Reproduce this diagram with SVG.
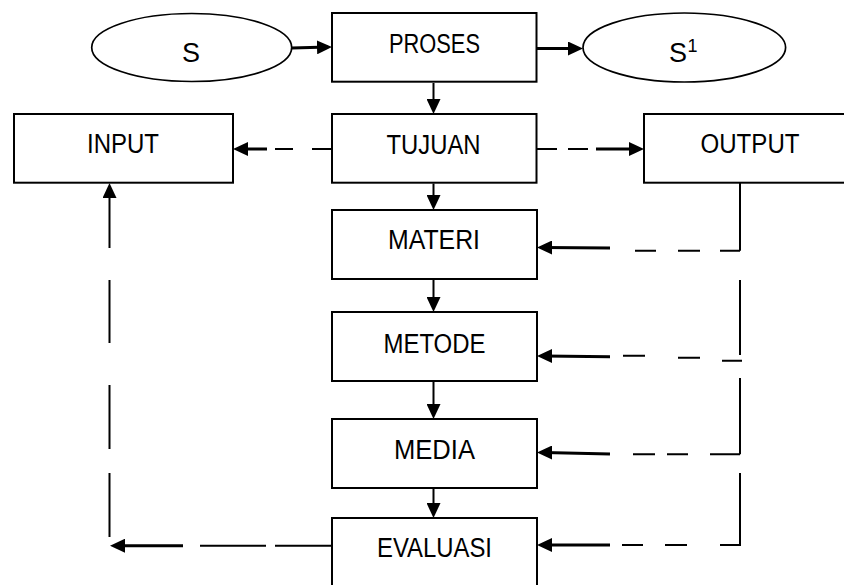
<svg xmlns="http://www.w3.org/2000/svg" width="844" height="585" viewBox="0 0 844 585">
<style>
.box{fill:#fff;stroke:#000;stroke-width:2}
.ell{fill:#fff;stroke:#000;stroke-width:1.7}
.lbl{font-family:"Liberation Sans",Arial,sans-serif;font-size:27px;fill:#000;text-anchor:middle}
.ln{fill:none;stroke:#000;stroke-width:2}
.thick{fill:none;stroke:#000;stroke-width:3}
.arr{fill:none;stroke:#000;stroke-width:2;marker-end:url(#ah)}
.arrT{fill:none;stroke:#000;stroke-width:3;marker-end:url(#ah)}
</style>
<defs>
<marker id="ah" markerUnits="userSpaceOnUse" markerWidth="15" markerHeight="14" refX="11" refY="7" orient="auto">
<path d="M0,0 L15,7 L0,14 Z" fill="#000"/>
</marker>
</defs>
<rect width="844" height="585" fill="#fff"/>
<g id="connectors">
<path class="arrT" d="M292,48 L328,47"/>
<path class="arrT" d="M537,48.5 L579,48.5"/>
<path class="arr" d="M433.5,83 L433.5,110"/>
<path class="arr" d="M433.5,183.5 L433.5,206"/>
<path class="arr" d="M433.5,280 L433.5,308"/>
<path class="arr" d="M433.5,382 L433.5,415"/>
<path class="arr" d="M433.5,489 L433.5,514"/>
<path class="thick" d="M267,149 L240,149"/>
<path class="arr" d="M241,149 L237,149"/>
<path class="ln" d="M275,149 H293 M312,149 H332"/>
<path class="ln" d="M537,149 H557 M568,149 H588"/>
<path class="thick" d="M596,149 L636,149"/>
<path class="arr" d="M635,149 L640,149"/>
<path class="ln" d="M740,183 V250.7 M720,250.7 H740 M678,250.7 H700 M635,250.7 H656"/>
<path class="thick" d="M610,248 L544,247.5"/>
<path class="arr" d="M545,247.5 L541,247.5"/>
<path class="ln" d="M740,280 V355 M722,360.7 H742 M678,357.7 H700 M623,355.7 H645"/>
<path class="thick" d="M610,356.7 L544,356"/>
<path class="arr" d="M545,356 L541,356"/>
<path class="ln" d="M740,378 V454.3 M710,454.3 H740 M667,454.3 H688 M633,454.3 H655"/>
<path class="thick" d="M610,454 L544,452.5"/>
<path class="arr" d="M545,452.5 L541,452.5"/>
<path class="ln" d="M740,473 V545 H720 M665,545 H687 M622,545 H643"/>
<path class="thick" d="M610,545 L544,545"/>
<path class="arr" d="M545,545 L541,545"/>
<path class="ln" d="M332,545.7 H275 M266,545.7 H200"/>
<path class="thick" d="M183,545.7 L117,545.7"/>
<path class="arr" d="M118,545.7 L114,545.7"/>
<path class="ln" d="M109.5,537 V473 M109.5,449 V385 M109.5,343 V280"/>
<path class="arr" d="M109.5,248 L109.5,187"/>
</g>
<g id="node-s">
<ellipse class="ell" cx="191.7" cy="47.5" rx="100" ry="34"/>
<text class="lbl" x="191" y="61.7">S</text>
</g>
<g id="node-proses">
<rect class="box" x="332" y="13" width="204.5" height="68.7"/>
<text class="lbl" x="434.5" y="52.8" textLength="91" lengthAdjust="spacingAndGlyphs">PROSES</text>
</g>
<g id="node-s1">
<ellipse class="ell" cx="684.3" cy="47.5" rx="101.3" ry="34.5"/>
<text class="lbl" style="text-anchor:start" x="669" y="61.7">S<tspan x="687.5" y="51.7" font-size="18">1</tspan></text>
</g>
<g id="node-input">
<rect class="box" x="14" y="114" width="219" height="68.7"/>
<text class="lbl" x="123" y="153.3" textLength="72" lengthAdjust="spacingAndGlyphs">INPUT</text>
</g>
<g id="node-tujuan">
<rect class="box" x="332" y="114" width="204.5" height="68.7"/>
<text class="lbl" x="433.5" y="154" textLength="94" lengthAdjust="spacingAndGlyphs">TUJUAN</text>
</g>
<g id="node-output">
<rect class="box" x="644" y="114" width="212" height="68.7"/>
<text class="lbl" x="750" y="153.3" textLength="99" lengthAdjust="spacingAndGlyphs">OUTPUT</text>
</g>
<g id="node-materi">
<rect class="box" x="332" y="210" width="205" height="69"/>
<text class="lbl" x="434" y="249.3" textLength="92" lengthAdjust="spacingAndGlyphs">MATERI</text>
</g>
<g id="node-metode">
<rect class="box" x="332" y="312" width="205" height="69"/>
<text class="lbl" x="434.5" y="352.7" textLength="102" lengthAdjust="spacingAndGlyphs">METODE</text>
</g>
<g id="node-media">
<rect class="box" x="332" y="419" width="205" height="69"/>
<text class="lbl" x="434.5" y="459.3" textLength="81" lengthAdjust="spacingAndGlyphs">MEDIA</text>
</g>
<g id="node-evaluasi">
<rect class="box" x="332" y="518" width="205" height="80"/>
<text class="lbl" x="434.5" y="557.3" textLength="115" lengthAdjust="spacingAndGlyphs">EVALUASI</text>
</g>
</svg>
